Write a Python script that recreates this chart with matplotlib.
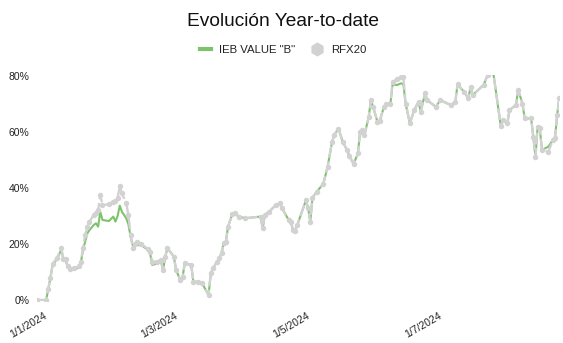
import pandas as pd
import matplotlib
matplotlib.use("Agg")
import matplotlib.pyplot as plt
import matplotlib.transforms as mtransforms
from matplotlib.lines import Line2D
from matplotlib.ticker import FuncFormatter

plt.rcParams['font.family'] = ['Liberation Sans', 'DejaVu Sans']

# Year-to-date return (%) of the fund vs the index
dates = [
    "2023-12-29", "2024-01-02", "2024-01-03", "2024-01-04", "2024-01-05", "2024-01-07",
    "2024-01-09", "2024-01-10", "2024-01-11", "2024-01-12", "2024-01-13", "2024-01-15",
    "2024-01-17", "2024-01-18", "2024-01-19", "2024-01-20", "2024-01-21", "2024-01-22",
    "2024-01-24", "2024-01-25", "2024-01-26", "2024-01-27", "2024-01-28", "2024-01-31",
    "2024-02-02", "2024-02-03", "2024-02-04", "2024-02-05", "2024-02-06", "2024-02-08",
    "2024-02-09", "2024-02-10", "2024-02-11", "2024-02-12", "2024-02-13", "2024-02-15",
    "2024-02-18", "2024-02-19", "2024-02-20", "2024-02-22", "2024-02-24", "2024-02-25",
    "2024-02-26", "2024-02-27", "2024-03-01", "2024-03-02", "2024-03-04", "2024-03-05",
    "2024-03-06", "2024-03-09", "2024-03-10", "2024-03-12", "2024-03-14", "2024-03-17",
    "2024-03-18", "2024-03-19", "2024-03-21", "2024-03-22", "2024-03-23", "2024-03-24",
    "2024-03-25", "2024-03-26", "2024-03-28", "2024-03-29", "2024-03-31", "2024-04-03",
    "2024-04-10", "2024-04-11", "2024-04-12", "2024-04-14", "2024-04-17", "2024-04-19",
    "2024-04-20", "2024-04-23", "2024-04-24", "2024-04-25", "2024-04-26", "2024-04-27",
    "2024-05-01", "2024-05-02", "2024-05-03", "2024-05-04", "2024-05-06", "2024-05-09",
    "2024-05-11", "2024-05-13", "2024-05-14", "2024-05-16", "2024-05-18", "2024-05-20",
    "2024-05-21", "2024-05-23", "2024-05-25", "2024-05-26", "2024-05-27", "2024-05-28",
    "2024-05-30", "2024-05-31", "2024-06-01", "2024-06-03", "2024-06-04", "2024-06-06",
    "2024-06-07", "2024-06-09", "2024-06-10", "2024-06-12", "2024-06-14", "2024-06-15",
    "2024-06-16", "2024-06-18", "2024-06-20", "2024-06-22", "2024-06-23", "2024-06-25",
    "2024-06-26", "2024-06-30", "2024-07-02", "2024-07-07", "2024-07-09", "2024-07-10",
    "2024-07-13", "2024-07-15", "2024-07-16", "2024-07-17", "2024-07-22", "2024-07-24",
    "2024-07-26", "2024-07-30", "2024-07-31", "2024-08-02", "2024-08-03", "2024-08-06",
    "2024-08-07", "2024-08-09", "2024-08-10", "2024-08-13", "2024-08-14", "2024-08-15",
    "2024-08-16", "2024-08-17", "2024-08-18", "2024-08-21", "2024-08-23", "2024-08-24",
    "2024-08-25", "2024-08-26",
]

ieb_value_b = [
    0, 0, 4, 8, 12.5, 14.6,
    18, 14.3, 14, 11.9, 10.7, 11,
    11.5, 13.2, 17.8, 20.8, 23.8, 25,
    26.8, 27.4, 26.2, 31.5, 28.6, 28.2,
    29.8, 28, 30, 33.7, 31.5, 29.2,
    27, 22.6, 19.6, 19.8, 19.6, 19.6,
    17.9, 16.7, 12.5, 13, 13.8, 10.7,
    15.5, 18.5, 15.5, 10.7, 7.1, 8.1,
    13.1, 12.5, 6.5, 6.5, 6, 1.8,
    9, 11.3, 13.7, 15, 16.7, 20.2,
    20.8, 26.2, 30.7, 31, 29.8, 29.2,
    29.8, 25.6, 30.4, 31.5, 33.9, 34.5,
    32.7, 28.6, 28, 25, 24.8, 26.8,
    35.7, 32.7, 28, 36.6, 38.7, 41.5,
    47.6, 56.3, 58.9, 61.2, 56.5, 53.5,
    51.5, 48.6, 52.4, 60.1, 60.7, 58.9,
    65.5, 71.4, 69, 63.7, 63.7, 69,
    70.2, 70.2, 77, 76.8, 77.4, 77.1,
    70.2, 63.1, 67.9, 70.8, 67.3, 73.8,
    71.4, 69, 71.4, 69.6, 70.8, 77,
    74.4, 72, 76, 73.2, 76.8, 80.5,
    84, 62.1, 64.3, 63.1, 67.9, 69.6,
    75, 70.2, 64.9, 64.9, 58.3, 51.2,
    61.9, 61.3, 53.6, 54.8, 57.1, 57.7,
    66, 72,
]

rfx20 = [
    0, 0, 4, 8, 13, 15,
    18.5, 14.5, 14.5, 12, 11, 11.3,
    12, 13.5, 18.5, 23.2, 26.2, 28,
    30.4, 31, 32, 37.5, 33.9, 34.2,
    35.1, 35.5, 36.5, 40.7, 38.1, 34.5,
    30.4, 23.2, 18.5, 20, 20.8, 20,
    18.2, 17, 13.7, 13.7, 14.3, 10.7,
    15.5, 18.5, 15.5, 10.7, 7.1, 8.1,
    13.1, 12.5, 6.5, 6.5, 6, 1.8,
    9.6, 11.3, 13.7, 15, 16.7, 20.2,
    20.8, 26.2, 30.7, 31, 29.8, 29.2,
    29.8, 25.6, 30.4, 31.5, 33.9, 34.5,
    32.7, 28.6, 28, 25, 24.8, 26.8,
    35.7, 32.7, 28, 36.6, 38.7, 41.5,
    47.6, 56.3, 58.9, 61.2, 56.5, 53.5,
    51.5, 48.6, 52.4, 60.1, 60.7, 58.9,
    65.5, 71.4, 69, 63.7, 64, 69,
    70.2, 70.2, 78, 78.8, 79.8, 79.8,
    70.2, 63.1, 67.9, 70.8, 67.3, 73.8,
    71.4, 69, 71.4, 69.6, 70.8, 77,
    74.4, 72, 76, 73.2, 76.8, 80.5,
    84, 62.1, 64.3, 63.1, 67.9, 69.6,
    75, 70.2, 64.9, 64.9, 58.3, 51.2,
    61.9, 61.3, 53.6, 53, 57.1, 57.7,
    66, 72,
]

x_ticks = ["2024-01-01", "2024-03-01", "2024-05-01", "2024-07-01"]
x_tick_labels = ["1/1/2024", "1/3/2024", "1/5/2024", "1/7/2024"]
y_ticks = [0, 20, 40, 60, 80]

green = "#7dc36b"
grey = "#d2d2d2"

dt = pd.to_datetime(dates)

fig = plt.figure(figsize=(5.63, 3.43), dpi=100)
ax = fig.add_axes([0.0666, 0.1213, 0.9268, 0.661])

ax.plot(dt, ieb_value_b, color=green, lw=1.5, zorder=2)
ax.plot(dt, rfx20, color=grey, lw=1.7, ls=(0, (5, 1.5)),
        marker="o", ms=2.9, mec=grey, mfc=grey, zorder=3)

ax.set_xlim(dt[0], dt[-1])
ax.set_ylim(-0.5, 80.5)

ax.set_yticks(y_ticks)
ax.yaxis.set_major_formatter(FuncFormatter(lambda v, p: f"{v:.0f}%"))
ax.set_xticks(pd.to_datetime(x_ticks))
ax.set_xticklabels(x_tick_labels, rotation=30, ha="right")

ax.tick_params(axis="both", length=0, labelsize=7.5, colors="#222222")
ax.tick_params(axis="x", pad=7)
ax.tick_params(axis="y", pad=6)
for s in ax.spines.values():
    s.set_visible(False)

# nudge the rotated date labels to the right
shift = mtransforms.ScaledTranslation(5 / 100, 0, fig.dpi_scale_trans)
for lbl in ax.get_xticklabels():
    lbl.set_transform(lbl.get_transform() + shift)

fig.text(0.503, 0.938, "Evolución Year-to-date", ha="center", va="center",
         fontsize=13.8, color="#111111")

handles = [
    Line2D([], [], color=green, lw=3),
    Line2D([], [], color=grey, lw=0, marker="h", ms=9),
]
fig.legend(handles, ['IEB VALUE "B"', "RFX20"], loc="center",
           bbox_to_anchor=(0.503, 0.854), ncol=2, frameon=False,
           fontsize=8.2, handlelength=1.0, handletextpad=0.7, columnspacing=1.4,
           labelcolor="#222222")

fig.savefig("out.png", dpi=100)
